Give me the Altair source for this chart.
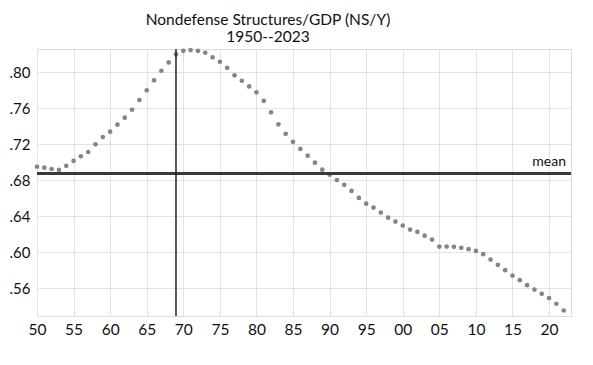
import altair as alt
import pandas as pd

years = list(range(1950, 2023))
ns_y = [
    0.695, 0.694, 0.6925, 0.6915, 0.696, 0.7015, 0.7067, 0.7114, 0.720, 0.728,
    0.734, 0.7418, 0.7496, 0.7584, 0.7692, 0.780, 0.7911, 0.8018, 0.8111, 0.820,
    0.824, 0.8248, 0.824, 0.8218, 0.8167, 0.8118, 0.8051, 0.7967, 0.7907, 0.7844,
    0.7778, 0.7684, 0.7556, 0.7422, 0.7316, 0.7227, 0.7148, 0.7073, 0.6996, 0.6918,
    0.6862, 0.6803, 0.6749, 0.6681, 0.6603, 0.654, 0.6496, 0.644, 0.6384, 0.634,
    0.6296, 0.6251, 0.6226, 0.6184, 0.614, 0.6062, 0.6062, 0.6059, 0.6048, 0.6033,
    0.6014, 0.5978, 0.5918, 0.5859, 0.580, 0.574, 0.5689, 0.5633, 0.5584, 0.5537,
    0.5489, 0.5426, 0.5351,
]
mean_value = [0.6875]
marker_year = [1969]
x_ticks = list(range(1950, 2021, 5))
y_ticks = [0.56, 0.60, 0.64, 0.68, 0.72, 0.76, 0.80]

df = pd.DataFrame({"year": years, "value": ns_y})
FONT = "Lato"

x_scale = alt.Scale(domain=[1950, 2023], nice=False, zero=False)
y_scale = alt.Scale(domain=[0.529, 0.826], nice=False, zero=False)

x_axis = alt.Axis(
    values=x_ticks, title=None, labelExpr="slice(format(datum.value,'d'),2)",
    grid=True, gridColor="#e3e3e3", ticks=False, domain=False, labelOverlap=False,
    labelFlush=False,
    labelFontSize=15.5, labelFont=FONT, labelColor="#111", labelPadding=6,
)
y_axis = alt.Axis(
    values=y_ticks, title=None, labelExpr="replace(format(datum.value,'.2f'),'0.','.')",
    grid=True, gridColor="#e3e3e3", ticks=False, domain=False, labelOverlap=False,
    labelFlush=False,
    labelFontSize=15, labelFont=FONT, labelColor="#111", labelPadding=7,
)

dots = alt.Chart(df).mark_circle(size=22, color="#858585", opacity=1).encode(
    x=alt.X("year:Q", scale=x_scale, axis=x_axis),
    y=alt.Y("value:Q", scale=y_scale, axis=y_axis),
)

mean_df = pd.DataFrame({"mean": mean_value, "label": ["mean"]})
mean_line = alt.Chart(mean_df).mark_rule(color="#3a3a3a", strokeWidth=3).encode(
    y=alt.Y("mean:Q", scale=y_scale, axis=y_axis)
)
mean_text = alt.Chart(mean_df).mark_text(
    align="right", baseline="bottom", dx=-5, dy=-5, fontSize=14, font=FONT, color="#111"
).encode(
    y=alt.Y("mean:Q", scale=y_scale, axis=y_axis), x=alt.value(534), text="label:N"
)

vline = alt.Chart(pd.DataFrame({"year": marker_year})).mark_rule(color="#222", strokeWidth=1.5).encode(
    x=alt.X("year:Q", scale=x_scale, axis=x_axis)
)

chart = alt.layer(dots, mean_line, mean_text, vline).properties(
    width=534, height=267,
    autosize=alt.AutoSizeParams(type="none"),
    padding={"left": 29, "top": 41, "right": 14, "bottom": 41},
    title=alt.TitleParams(
        text=["Nondefense Structures/GDP (NS/Y)", "1950--2023"],
        anchor="middle", dx=-36, fontSize=15.5, font=FONT, fontWeight="normal",
        lineHeight=17, offset=2, color="#111",
    ),
).configure_view(stroke="#c8c8c8", strokeWidth=1.5).configure(background="white")

chart.save("out.html", embed_options={"renderer": "svg", "actions": False})
